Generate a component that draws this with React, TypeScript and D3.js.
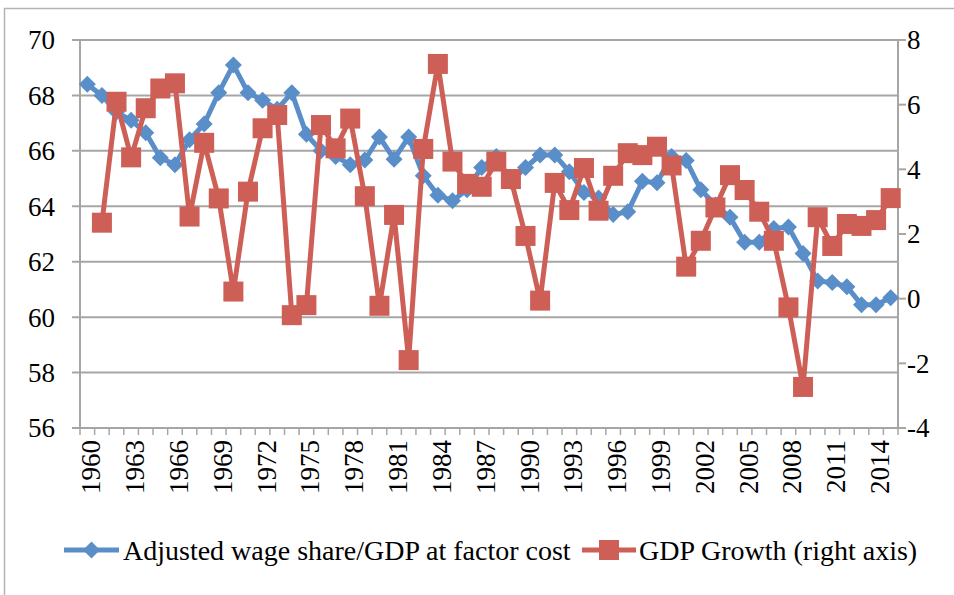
import React from 'react';
import * as d3 from 'd3';

// years on the category axis
const years: number[] = d3.range(1960, 2016);

// Adjusted wage share / GDP at factor cost (left axis)
const wageShare: number[] = [
  68.4, 68.0, 67.4, 67.1, 66.65, 65.75, 65.5, 66.4, 66.97, 68.1,
  69.1, 68.1, 67.83, 67.5, 68.1, 66.6, 66.0, 65.8, 65.5, 65.67,
  66.5, 65.7, 66.5, 65.1, 64.4, 64.2, 64.6, 65.4, 65.8, 64.9,
  65.4, 65.85, 65.85, 65.25, 64.5, 64.3, 63.7, 63.8, 64.9, 64.85,
  65.8, 65.65, 64.6, 64.05, 63.6, 62.7, 62.7, 63.2, 63.25, 62.3,
  61.3, 61.25, 61.1, 60.45, 60.45, 60.7,
];

// GDP growth, % (right axis) — no value for 1960
const gdpGrowth: (number | null)[] = [
  null, 2.35, 6.09, 4.37, 5.89, 6.5, 6.66, 2.54, 4.82, 3.1,
  0.22, 3.31, 5.27, 5.68, -0.51, -0.2, 5.37, 4.65, 5.57, 3.17,
  -0.22, 2.59, -1.9, 4.63, 7.26, 4.24, 3.55, 3.46, 4.24, 3.7,
  1.94, -0.06, 3.58, 2.74, 4.04, 2.72, 3.8, 4.5, 4.44, 4.7,
  4.12, 0.99, 1.79, 2.82, 3.82, 3.36, 2.69, 1.79, -0.27, -2.73,
  2.52, 1.63, 2.31, 2.25, 2.43, 3.11,
];

const leftTicks = [56, 58, 60, 62, 64, 66, 68, 70];
const rightTicks = [-4, -2, 0, 2, 4, 6, 8];
const labelYears = years.filter((y) => (y - 1960) % 3 === 0);

const seriesNames = ['Adjusted wage share/GDP at factor cost', 'GDP Growth (right axis)'];

const BLUE = '#5a8ec9';
const RED = '#cd5f57';
const GRID = '#a6a6a6';
const FONT = 'Liberation Serif, serif';

export default function App() {
  const width = 954;
  const height = 595;
  const margin = { top: 40, right: 56, bottom: 167, left: 80 };

  const x = d3
    .scaleBand<number>()
    .domain(years)
    .range([margin.left, width - margin.right])
    .padding(0);
  const cx = (yr: number) => (x(yr) as number) + x.bandwidth() / 2;

  const yL = d3.scaleLinear().domain([56, 70]).range([height - margin.bottom, margin.top]);
  const yR = d3.scaleLinear().domain([-4, 8]).range([height - margin.bottom, margin.top]);

  const wageLine = d3
    .line<number>()
    .x((_, i) => cx(years[i]))
    .y((d) => yL(d));

  const gdpLine = d3
    .line<number | null>()
    .defined((d) => d !== null)
    .x((_, i) => cx(years[i]))
    .y((d) => yR(d as number));

  const x0 = margin.left;
  const x1 = width - margin.right;
  const yBottom = height - margin.bottom;

  const diamond = (px: number, py: number, r: number) =>
    `M${px},${py - r}L${px + r},${py}L${px},${py + r}L${px - r},${py}Z`;

  const legendY = 550;

  return (
    <svg
      width={width}
      height={height}
      style={{ position: 'absolute', left: 0, top: 0, background: '#fff', fontFamily: FONT }}
    >
      <rect x={4.5} y={8.5} width={1000} height={700} fill="#fff" stroke="#b3b3b3" strokeWidth={1.5} />

      {/* gridlines follow the left axis */}
      {leftTicks.map((t) => (
        <line key={'g' + t} x1={x0 - 8} x2={x1} y1={yL(t)} y2={yL(t)} stroke={GRID} strokeWidth={2} />
      ))}

      {/* axes */}
      <line x1={x0} x2={x0} y1={margin.top} y2={yBottom} stroke={GRID} strokeWidth={2} />
      <line x1={x1} x2={x1} y1={margin.top} y2={yBottom} stroke={GRID} strokeWidth={2} />
      {rightTicks.map((t) => (
        <line key={'rt' + t} x1={x1} x2={x1 + 8} y1={yR(t)} y2={yR(t)} stroke={GRID} strokeWidth={2} />
      ))}
      {years.concat([2016]).map((yr, i) => {
        const px = i < years.length ? (x(yr) as number) : x1;
        return <line key={'xt' + yr} x1={px} x2={px} y1={yBottom} y2={yBottom + 7} stroke={GRID} strokeWidth={1.5} />;
      })}

      {/* tick labels */}
      {leftTicks.map((t) => (
        <text key={'lt' + t} x={x0 - 25} y={yL(t)} dy="0.35em" textAnchor="end" fontSize={27} fill="#000">
          {t}
        </text>
      ))}
      {rightTicks.map((t) => (
        <text key={'rl' + t} x={x1 + 9} y={yR(t)} dy="0.35em" textAnchor="start" fontSize={27} fill="#000">
          {t}
        </text>
      ))}
      {labelYears.map((yr) => (
        <text
          key={'yl' + yr}
          transform={`translate(${cx(yr) + 13},${yBottom + 12}) rotate(-90)`}
          textAnchor="end"
          fontSize={27}
          fill="#000"
        >
          {yr}
        </text>
      ))}

      {/* wage share series */}
      <path d={wageLine(wageShare) || ''} fill="none" stroke={BLUE} strokeWidth={5} strokeLinejoin="round" />
      {wageShare.map((v, i) => (
        <path key={'d' + i} d={diamond(cx(years[i]), yL(v), 8.5)} fill={BLUE} />
      ))}

      {/* GDP growth series */}
      <path d={gdpLine(gdpGrowth) || ''} fill="none" stroke={RED} strokeWidth={5} strokeLinejoin="round" />
      {gdpGrowth.map((v, i) =>
        v === null ? null : (
          <rect key={'s' + i} x={cx(years[i]) - 10} y={yR(v) - 10} width={20} height={20} fill={RED} />
        )
      )}

      {/* legend */}
      <line x1={64} x2={119} y1={legendY} y2={legendY} stroke={BLUE} strokeWidth={5} />
      <path d={diamond(91.5, legendY, 8.5)} fill={BLUE} />
      <text x={123} y={legendY} dy="0.35em" fontSize={28} fill="#000">
        {seriesNames[0]}
      </text>
      <line x1={582} x2={636} y1={legendY} y2={legendY} stroke={RED} strokeWidth={5} />
      <rect x={609 - 10} y={legendY - 10} width={20} height={20} fill={RED} />
      <text x={639} y={legendY} dy="0.35em" fontSize={28} fill="#000">
        {seriesNames[1]}
      </text>
    </svg>
  );
}
